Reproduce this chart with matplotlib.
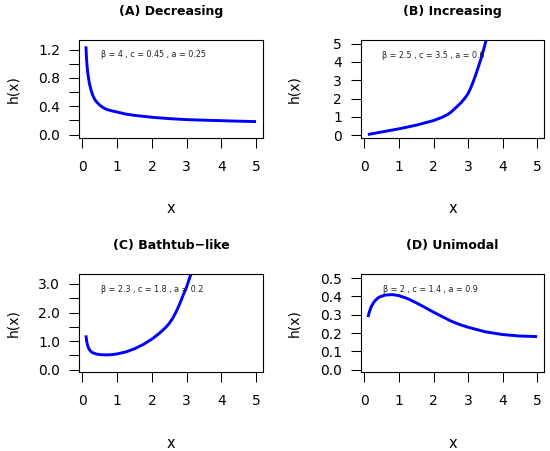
import matplotlib
matplotlib.use("Agg")
import matplotlib.pyplot as plt
from matplotlib.ticker import FixedLocator, FixedFormatter

# hazard curves
x_dec = [0.10, 0.11, 0.12, 0.13, 0.15, 0.18, 0.20, 0.25, 0.30, 0.35, 0.40, 0.50,
         0.60, 0.70, 0.85, 1.00, 1.25, 1.50, 2.00, 2.50, 3.00, 3.50, 4.00, 4.50, 5.00]
h_dec = [1.245, 1.13, 1.05, 0.98, 0.88, 0.78, 0.72, 0.62, 0.55, 0.50, 0.465, 0.415,
         0.38, 0.355, 0.335, 0.318, 0.29, 0.272, 0.245, 0.226, 0.212, 0.204, 0.197,
         0.190, 0.184]

x_inc = [0.10, 0.50, 1.00, 1.50, 2.00, 2.25, 2.40, 2.50, 2.60, 2.70, 2.80, 2.90,
         3.00, 3.05, 3.10, 3.15, 3.20, 3.25, 3.30, 3.35, 3.40, 3.45, 3.50, 3.55]
h_inc = [0.04, 0.18, 0.35, 0.55, 0.80, 0.98, 1.12, 1.25, 1.42, 1.60, 1.78, 2.00,
         2.27, 2.46, 2.68, 2.92, 3.18, 3.45, 3.73, 4.02, 4.33, 4.66, 5.02, 5.40]

x_bath = [0.10, 0.12, 0.14, 0.17, 0.21, 0.25, 0.30, 0.40, 0.55, 0.70, 0.85, 1.00,
          1.25, 1.50, 1.75, 2.00, 2.10, 2.25, 2.40, 2.50, 2.60, 2.70, 2.80, 2.90,
          3.00, 3.05, 3.10, 3.20]
h_bath = [1.20, 1.00, 0.88, 0.77, 0.68, 0.63, 0.59, 0.545, 0.52, 0.515, 0.525, 0.55,
          0.62, 0.73, 0.88, 1.07, 1.16, 1.31, 1.48, 1.62, 1.80, 2.03, 2.30, 2.61,
          2.90, 3.08, 3.26, 3.60]

x_uni = [0.10, 0.15, 0.20, 0.25, 0.30, 0.38, 0.45, 0.60, 0.80, 1.00, 1.25, 1.50,
         1.75, 2.00, 2.25, 2.50, 2.75, 3.00, 3.50, 4.00, 4.50, 5.00]
h_uni = [0.287, 0.320, 0.345, 0.362, 0.375, 0.390, 0.398, 0.407, 0.410, 0.404, 0.388,
         0.365, 0.340, 0.314, 0.290, 0.266, 0.247, 0.232, 0.207, 0.192, 0.184, 0.181]

titles = ["(A) Decreasing", "(B) Increasing", "(C) Bathtub\u2212like", "(D) Unimodal"]
params = ["\u03b2 = 4 , c = 0.45 , a = 0.25",
          "\u03b2 = 2.5 , c = 3.5 , a = 0.6",
          "\u03b2 = 2.3 , c = 1.8 , a = 0.2",
          "\u03b2 = 2 , c = 1.4 , a = 0.9"]
param_xy = [(2.05, 1.13), (2.0, 4.36), (2.01, 2.79), (1.9, 0.436)]

y_ticks = [[0.0, 0.2, 0.4, 0.6, 0.8, 1.0, 1.2],
           [0, 1, 2, 3, 4, 5],
           [0.0, 0.5, 1.0, 1.5, 2.0, 2.5, 3.0],
           [0.0, 0.1, 0.2, 0.3, 0.4, 0.5]]
y_labels = [["0.0", "", "0.4", "", "0.8", "", "1.2"],
            ["0", "1", "2", "3", "4", "5"],
            ["0.0", "", "1.0", "", "2.0", "", "3.0"],
            ["0.0", "0.1", "0.2", "0.3", "0.4", "0.5"]]
y_lims = [(-0.047, 1.341), (-0.15, 5.22), (-0.084, 3.35), (-0.012, 0.522)]
x_ticks = [0, 1, 2, 3, 4, 5]

curves = [(x_dec, h_dec), (x_inc, h_inc), (x_bath, h_bath), (x_uni, h_uni)]

W, H = 550, 451
fig = plt.figure(figsize=(W / 100, H / 100), dpi=100)

# box edges in pixels: (left, right, top, bottom)
boxes = [(79, 263, 39.5, 138), (361, 544, 39.5, 138),
         (79, 263, 274, 372), (361, 544, 274, 372)]

for i, (l, r, t, b) in enumerate(boxes):
    ax = fig.add_axes([l / W, 1 - b / H, (r - l) / W, (b - t) / H])
    xs, ys = curves[i]
    ax.plot(xs, ys, color="#0000ff", lw=2.1, solid_capstyle="butt",
            solid_joinstyle="round")

    ax.set_xlim(-0.1, 5.2)
    ax.set_ylim(*y_lims[i])
    ax.xaxis.set_major_locator(FixedLocator(x_ticks))
    ax.xaxis.set_major_formatter(FixedFormatter([str(v) for v in x_ticks]))
    ax.yaxis.set_major_locator(FixedLocator(y_ticks[i]))
    ax.yaxis.set_major_formatter(FixedFormatter(y_labels[i]))

    for s in ax.spines.values():
        s.set_linewidth(0.8)
        s.set_color("black")
    ax.tick_params(axis="both", direction="out", length=7.2, width=0.75,
                   labelsize=10, colors="black")
    ax.tick_params(axis="x", pad=8.5)
    ax.tick_params(axis="y", pad=6.5)

    ax.text(param_xy[i][0], param_xy[i][1], params[i], fontsize=5.8,
            color="#222222", ha="center", va="center")

    bh = b - t
    bw = r - l
    ax.text(0.5, 1 + 28.5 / bh, titles[i], transform=ax.transAxes,
            ha="center", va="center", fontsize=9, fontweight="bold")
    ax.text(0.5, -75.5 / bh, "x", transform=ax.transAxes,
            ha="center", va="baseline", fontsize=10.5)
    ylab_x = 13 if i % 2 == 0 else 294.7
    ax.text((ylab_x - l) / bw, 0.5, "h(x)", transform=ax.transAxes,
            ha="center", va="center", rotation=90, fontsize=10)

fig.savefig("out.png", dpi=100)
